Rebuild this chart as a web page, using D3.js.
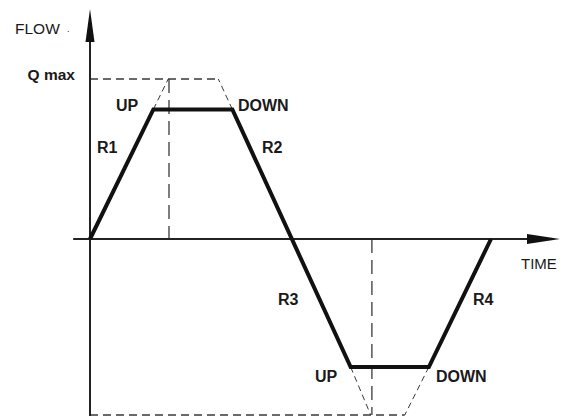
<!DOCTYPE html>
<html><head><meta charset="utf-8">
<script src="https://cdn.jsdelivr.net/npm/d3@7"></script>
<style>html,body{margin:0;padding:0;background:#fff;}text{font-family:"Liberation Sans",Arial,sans-serif;fill:#1a1a1a;}</style>
</head><body>
<svg id="c" width="568" height="416"></svg>
<script>
// Flow profile (time, flow)
const profileTime = [0, 1.58, 3.55, 6.5, 8.45, 10];
const profileFlow = [0, 0.81, 0.81, -0.8, -0.8, 0];
// Theoretical (dashed) envelope
const qMax = 1.0;
const qMin = -1.1;
const upperApex = [1.95, 3.2];   // time where ramps reach Q max
const lowerApex = [7.0, 7.85];   // time where ramps reach -Q max
const markerTimes = [1.97, 7.03]; // vertical dashed markers
const labels = ["UP", "DOWN", "R1", "R2", "R3", "R4", "UP", "DOWN"];

const svg = d3.select("#c");
const x = d3.scaleLinear().domain([0, 10]).range([90, 491]);
const y = d3.scaleLinear().domain([qMin, qMax]).range([415, 79]);

const dash = {stroke:"#3a3a3a", w:1.3, da:"8,5"};
function line(x1,y1,x2,y2,st,w,da){
  const l = svg.append("line").attr("x1",x1).attr("y1",y1).attr("x2",x2).attr("y2",y2)
    .attr("stroke",st).attr("stroke-width",w);
  if(da) l.attr("stroke-dasharray",da);
  return l;
}

// dashed envelope
line(x(0), y(qMax), x(upperApex[1]), y(qMax), dash.stroke, dash.w, dash.da);
line(x(profileTime[1]), y(profileFlow[1]), x(upperApex[0]), y(qMax), dash.stroke, 1, "6,4");
line(x(profileTime[2]), y(profileFlow[2]), x(upperApex[1]), y(qMax), dash.stroke, 1, "6,4");
line(x(markerTimes[0]), y(qMax), x(markerTimes[0]), y(0), dash.stroke, dash.w, "14,7");
line(x(0), y(qMin), x(lowerApex[1]), y(qMin), dash.stroke, dash.w, dash.da);
line(x(profileTime[3]), y(profileFlow[3]), x(lowerApex[0]), y(qMin), dash.stroke, 1, "6,4");
line(x(profileTime[4]), y(profileFlow[4]), x(lowerApex[1]), y(qMin), dash.stroke, 1, "6,4");
line(x(markerTimes[1]), y(0), x(markerTimes[1]), y(qMin), dash.stroke, dash.w, "14,7");

// axes
const ax = x(0), ay = y(0);
line(ax, 40, ax, 416, "#222", 2);
line(x(-0.42), ay, 530, ay, "#222", 2);
svg.append("path").attr("d", `M${ax},9 L${ax-4.5},42 L${ax+4.5},42 Z`).attr("fill","#111");
svg.append("path").attr("d", `M560,${ay} L527,${ay-5} L527,${ay+5} Z`).attr("fill","#111");

// profile
const lg = d3.line().x((d,i)=>x(profileTime[i])).y((d,i)=>y(profileFlow[i]));
svg.append("path").attr("d", lg(profileTime)).attr("fill","none")
  .attr("stroke","#111").attr("stroke-width",4).attr("stroke-linejoin","miter");

// text
function txt(s,px,py,bold,anchor,fs){
  svg.append("text").attr("x",px).attr("y",py).text(s)
    .attr("font-size",fs||16).attr("font-weight",bold?"bold":"normal")
    .attr("text-anchor",anchor||"start");
}
txt("FLOW", 15, 34, false, "start", 15.5);
svg.append("text").attr("x",67).attr("y",32).text(".").attr("font-size",9);
txt("Q max", 75, 80, true, "end", 15.5);
txt("TIME", 521, 269, false, "start", 15);
const lp = [[116,111],[238,111],[97,153],[262,153],[278,305],[473,305],[315,382],[436,382]];
labels.forEach((s,i)=>txt(s, lp[i][0], lp[i][1], true));
</script>
</body></html>
